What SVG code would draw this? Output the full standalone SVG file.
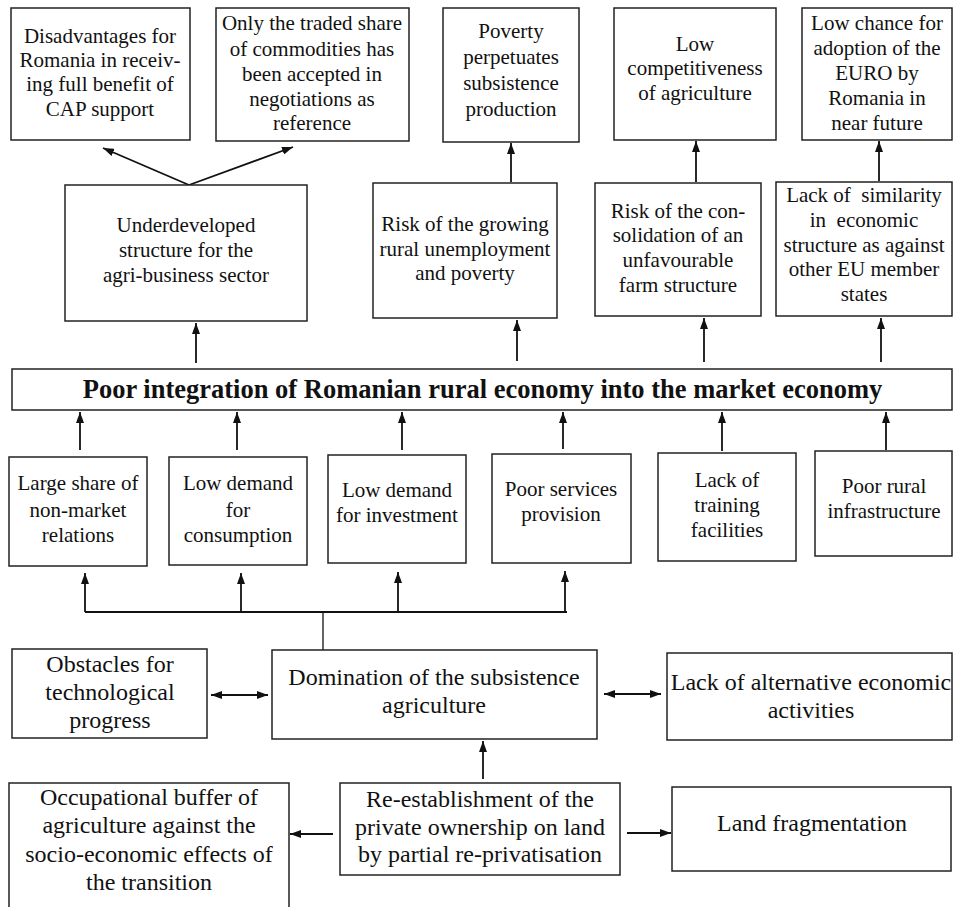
<svg xmlns="http://www.w3.org/2000/svg" width="953" height="907" viewBox="0 0 953 907" font-family="'Liberation Serif', 'Times New Roman', Times, 'DejaVu Serif', serif">
<style>
rect{fill:#fff;stroke:#222;stroke-width:1.5}
text{font-family:'Liberation Serif', 'Times New Roman', Times, 'DejaVu Serif', serif;fill:#111;text-anchor:middle;white-space:pre}
.s{font-size:21px}
.m{font-size:24px}
.t{font-size:26.5px;font-weight:bold}
#conn line,#conn polyline{stroke:#111;stroke-width:1.8;fill:none}
.a{marker-end:url(#ah)}
.d{marker-end:url(#ah);marker-start:url(#ah)}
</style>
<defs>
<marker id="ah" viewBox="0 0 11 8" refX="11" refY="4" markerWidth="11" markerHeight="8" markerUnits="userSpaceOnUse" orient="auto-start-reverse">
<path d="M0,0 L11,4 L0,8 z" fill="#111"/>
</marker>
</defs>
<rect x="0" y="0" width="953" height="907" style="stroke:none"/>
<g id="conn">
<line class="a" x1="189" y1="185" x2="103" y2="148"/>
<line class="a" x1="189" y1="185" x2="293" y2="147"/>
<line class="a" x1="511" y1="182" x2="511" y2="143"/>
<line class="a" x1="696" y1="182" x2="696" y2="141"/>
<line class="a" x1="879" y1="181" x2="879" y2="141"/>
<line class="a" x1="196" y1="363" x2="196" y2="323"/>
<line class="a" x1="517" y1="361" x2="517" y2="320"/>
<line class="a" x1="704" y1="362" x2="704" y2="318"/>
<line class="a" x1="881" y1="362" x2="881" y2="318"/>
<line class="a" x1="80" y1="450" x2="80" y2="412"/>
<line class="a" x1="237" y1="450" x2="237" y2="412"/>
<line class="a" x1="402" y1="450" x2="402" y2="412"/>
<line class="a" x1="563" y1="449" x2="563" y2="412"/>
<line class="a" x1="722" y1="451" x2="722" y2="412"/>
<line class="a" x1="886" y1="450" x2="886" y2="412"/>
<polyline points="85,612 567,612"/>
<line class="a" x1="85" y1="612" x2="85" y2="573"/>
<line class="a" x1="241" y1="612" x2="241" y2="573"/>
<line class="a" x1="398" y1="612" x2="398" y2="572"/>
<line class="a" x1="565" y1="612" x2="565" y2="571"/>
<line x1="323" y1="612" x2="323" y2="650" style="stroke-width:1.3"/>
<line class="d" x1="211" y1="695" x2="268" y2="695"/>
<line class="d" x1="604" y1="694" x2="661" y2="694"/>
<line class="a" x1="483" y1="779" x2="483" y2="741"/>
<line class="a" x1="333" y1="834" x2="290" y2="834"/>
<line class="a" x1="627" y1="833" x2="671" y2="833"/>
</g>
<g id="n-disadv">
<rect x="11" y="8" width="179" height="132"/>
<text class="s" x="100" y="43">Disadvantages for</text>
<text class="s" x="100" y="67">Romania in receiv-</text>
<text class="s" x="100" y="91">ing full benefit of</text>
<text class="s" x="100" y="116">CAP support</text>
</g>
<g id="n-traded">
<rect x="216" y="8" width="193" height="133"/>
<text class="s" x="312" y="30">Only the traded share</text>
<text class="s" x="312" y="56">of commodities has</text>
<text class="s" x="312" y="81">been accepted in</text>
<text class="s" x="312" y="106">negotiations as</text>
<text class="s" x="312" y="130">reference</text>
</g>
<g id="n-poverty">
<rect x="443" y="8" width="136" height="134"/>
<text class="s" x="511" y="38">Poverty</text>
<text class="s" x="511" y="64">perpetuates</text>
<text class="s" x="511" y="90">subsistence</text>
<text class="s" x="511" y="116">production</text>
</g>
<g id="n-compet">
<rect x="614" y="8" width="162" height="132"/>
<text class="s" x="695" y="51">Low</text>
<text class="s" x="695" y="75">competitiveness</text>
<text class="s" x="695" y="100">of agriculture</text>
</g>
<g id="n-euro">
<rect x="802" y="8" width="150" height="132"/>
<text class="s" x="877" y="30">Low chance for</text>
<text class="s" x="877" y="55">adoption of the</text>
<text class="s" x="877" y="80">EURO by</text>
<text class="s" x="877" y="105">Romania in</text>
<text class="s" x="877" y="130">near future</text>
</g>
<g id="n-underdev">
<rect x="65" y="185" width="242" height="136"/>
<text class="s" x="186" y="232">Underdeveloped</text>
<text class="s" x="186" y="257">structure for the</text>
<text class="s" x="186" y="282">agri-business sector</text>
</g>
<g id="n-unemploy">
<rect x="373" y="183" width="184" height="135"/>
<text class="s" x="465" y="231">Risk of the growing</text>
<text class="s" x="465" y="256">rural unemployment</text>
<text class="s" x="465" y="280">and poverty</text>
</g>
<g id="n-consol">
<rect x="595" y="183" width="166" height="133"/>
<text class="s" x="678" y="218">Risk of the con-</text>
<text class="s" x="678" y="242">solidation of an</text>
<text class="s" x="678" y="267">unfavourable</text>
<text class="s" x="678" y="292">farm structure</text>
</g>
<g id="n-similar">
<rect x="776" y="182" width="176" height="134"/>
<text class="s" x="864" y="202">Lack of  similarity</text>
<text class="s" x="864" y="227">in  economic</text>
<text class="s" x="864" y="252">structure as against</text>
<text class="s" x="864" y="276">other EU member</text>
<text class="s" x="864" y="301">states</text>
</g>
<g id="n-poorint">
<rect x="12" y="369" width="940" height="41"/>
<text class="t" x="482.5" y="398">Poor integration of Romanian rural economy into the market economy</text>
</g>
<g id="n-nonmarket">
<rect x="9" y="457" width="138" height="109"/>
<text class="s" x="78" y="490">Large share of</text>
<text class="s" x="78" y="517">non-market</text>
<text class="s" x="78" y="542">relations</text>
</g>
<g id="n-consum">
<rect x="169" y="457" width="138" height="108"/>
<text class="s" x="238" y="490">Low demand</text>
<text class="s" x="238" y="517">for</text>
<text class="s" x="238" y="542">consumption</text>
</g>
<g id="n-invest">
<rect x="328" y="455" width="138" height="108"/>
<text class="s" x="397" y="497">Low demand</text>
<text class="s" x="397" y="522">for investment</text>
</g>
<g id="n-services">
<rect x="492" y="454" width="139" height="109"/>
<text class="s" x="561" y="496">Poor services</text>
<text class="s" x="561" y="521">provision</text>
</g>
<g id="n-training">
<rect x="658" y="453" width="138" height="108"/>
<text class="s" x="727" y="487">Lack of</text>
<text class="s" x="727" y="512">training</text>
<text class="s" x="727" y="537">facilities</text>
</g>
<g id="n-infra">
<rect x="815" y="451" width="137" height="105"/>
<text class="s" x="884" y="493">Poor rural</text>
<text class="s" x="884" y="518">infrastructure</text>
</g>
<g id="n-obstacles">
<rect x="12" y="649" width="195" height="89"/>
<text class="m" x="110" y="672">Obstacles for</text>
<text class="m" x="110" y="700">technological</text>
<text class="m" x="110" y="728">progress</text>
</g>
<g id="n-domination">
<rect x="272" y="650" width="325" height="89"/>
<text class="m" x="434" y="685">Domination of the subsistence</text>
<text class="m" x="434" y="713">agriculture</text>
</g>
<g id="n-alternative">
<rect x="667" y="653" width="285" height="87"/>
<text class="m" x="811" y="690">Lack of alternative economic</text>
<text class="m" x="811" y="718">activities</text>
</g>
<g id="n-reestab">
<rect x="340" y="783" width="280" height="92"/>
<text class="m" x="480" y="807">Re-establishment of the</text>
<text class="m" x="480" y="835">private ownership on land</text>
<text class="m" x="480" y="862">by partial re-privatisation</text>
</g>
<g id="n-buffer">
<rect x="9" y="783" width="280" height="130"/>
<text class="m" x="149" y="805">Occupational buffer of</text>
<text class="m" x="149" y="833">agriculture against the</text>
<text class="m" x="149" y="862">socio-economic effects of</text>
<text class="m" x="149" y="890">the transition</text>
</g>
<g id="n-landfrag">
<rect x="672" y="787" width="279" height="84"/>
<text class="m" x="812" y="831">Land fragmentation</text>
</g>
</svg>
